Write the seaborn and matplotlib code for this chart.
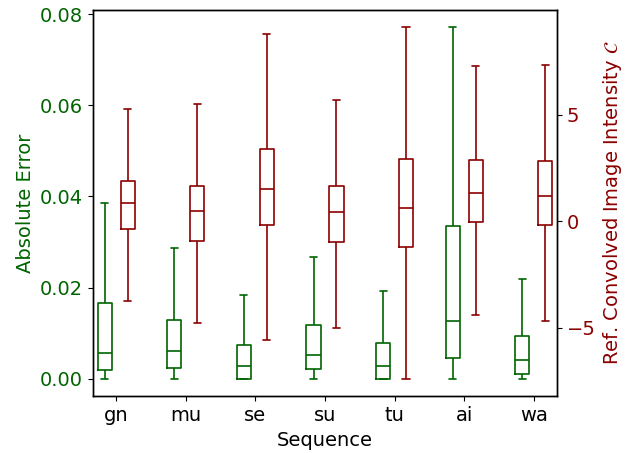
import numpy as np
import pandas as pd
import matplotlib
matplotlib.use("Agg")
import matplotlib.pyplot as plt
import seaborn as sns

sns.set_style("ticks")
plt.rcParams['font.family'] = ['DejaVu Sans']
plt.rcParams['mathtext.fontset'] = 'dejavusans'
plt.rcParams['text.color'] = 'black'
plt.rcParams['axes.labelcolor'] = 'black'
plt.rcParams['xtick.color'] = 'black'
plt.rcParams['ytick.color'] = 'black'

sequences = ["gn", "mu", "se", "su", "tu", "ai", "wa"]

# five-number summaries: min, q1, median, q3, max
err_gn = [0.0, 0.0019, 0.0057, 0.0166, 0.0386]
err_mu = [0.0, 0.0024, 0.0060, 0.0129, 0.0287]
err_se = [0.0, 0.0, 0.0027, 0.0074, 0.0184]
err_su = [0.0, 0.0021, 0.0053, 0.0119, 0.0267]
err_tu = [0.0, 0.0, 0.00285, 0.00775, 0.0193]
err_ai = [0.0, 0.00447, 0.01264, 0.0335, 0.0771]
err_wa = [0.0, 0.00103, 0.0041, 0.00935, 0.0219]

int_gn = [-3.75, -0.36, 0.84, 1.89, 5.27]
int_mu = [-4.78, -0.92, 0.47, 1.66, 5.52]
int_se = [-5.58, -0.20, 1.49, 3.38, 8.77]
int_su = [-5.02, -1.00, 0.45, 1.67, 5.69]
int_tu = [-7.39, -1.22, 0.64, 2.91, 9.11]
int_ai = [-4.39, -0.02, 1.31, 2.87, 7.27]
int_wa = [-4.69, -0.19, 1.16, 2.83, 7.33]

err_vals = [err_gn, err_mu, err_se, err_su, err_tu, err_ai, err_wa]
int_vals = [int_gn, int_mu, int_se, int_su, int_tu, int_ai, int_wa]

rows = []
for s, ev, iv in zip(sequences, err_vals, int_vals):
    for v in ev:
        rows.append({"Sequence": s, "kind": "err", "value": v})
    for v in iv:
        rows.append({"Sequence": s, "kind": "int", "value": v})
df = pd.DataFrame(rows)

GREEN = "#006400"
RED = "#8B0000"
FS = 14

fig, ax1 = plt.subplots(figsize=(6.41, 4.53), dpi=100)
ax2 = ax1.twinx()

common = dict(x="Sequence", y="value", hue="kind", hue_order=["err", "int"],
              order=sequences, dodge=True, width=0.66, gap=0.38, fill=False,
              whis=(0, 100), linewidth=1.2, legend=False)

sns.boxplot(data=df[df.kind == "err"], ax=ax1,
            palette={"err": GREEN, "int": RED}, **common)
sns.boxplot(data=df[df.kind == "int"], ax=ax2,
            palette={"err": GREEN, "int": RED}, **common)

ax1.set_xlim(-0.335, 6.335)
ax1.set_ylim(-0.00386, 0.081)
ax2.set_ylim(-8.22, 9.93)
ax1.set_yticks([0.0, 0.02, 0.04, 0.06, 0.08])
ax1.set_yticklabels(["0.00", "0.02", "0.04", "0.06", "0.08"])
ax2.set_yticks([-5, 0, 5])

ax1.set_xlabel("Sequence", fontsize=FS, color="black")
ax1.set_ylabel("Absolute Error", color=GREEN, fontsize=FS)
ax2.set_ylabel(r"Ref. Convolved Image Intensity $\mathcal{C}$", color=RED, fontsize=FS)
ax1.tick_params(axis="y", labelcolor=GREEN, labelsize=FS, color="black")
ax1.tick_params(axis="x", labelsize=FS, labelcolor="black", color="black")
ax2.tick_params(axis="y", labelcolor=RED, labelsize=FS, color="black")

for ax in (ax1, ax2):
    for sp in ax.spines.values():
        sp.set_visible(True)
        sp.set_color("black")
        sp.set_linewidth(1.0)

fig.subplots_adjust(left=0.145, right=0.869, top=0.979, bottom=0.125)
fig.savefig("out.png", dpi=100)
